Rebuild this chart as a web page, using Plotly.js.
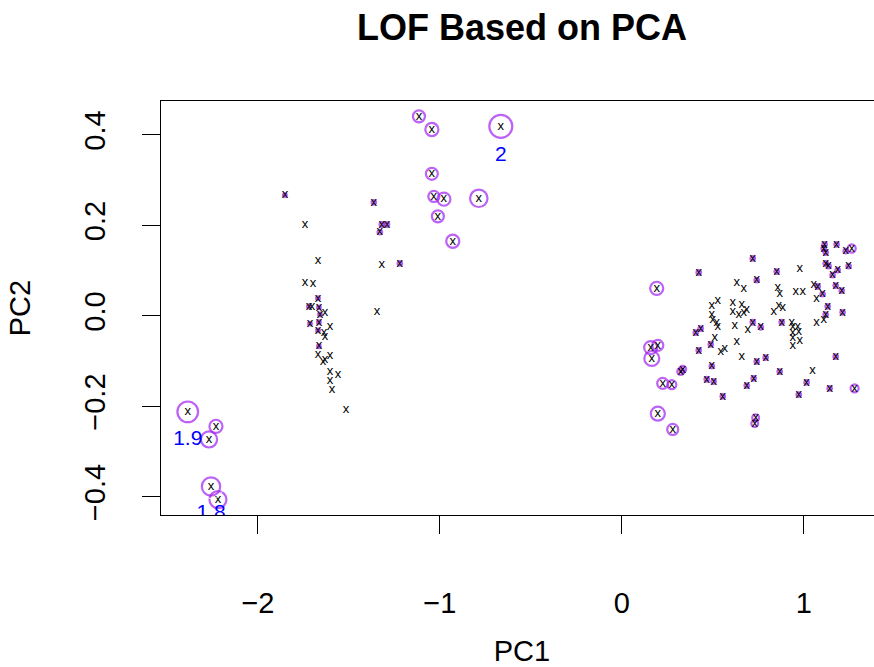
<!DOCTYPE html>
<html>
<head>
<meta charset="utf-8">
<script src="https://cdn.plot.ly/plotly-3.0.1.min.js"></script>
<style>
html, body { margin: 0; padding: 0; overflow: hidden; background: #fff; }
#chart { width: 905px; height: 667px; }
</style>
</head>
<body>
<div id="chart"></div>
<script>
// PCA scores (PC1, PC2) and LOF score per observation
const pc1 = [
  -1.115,-1.044,-0.665,-1.044,-1.033,-0.978,-0.786,-1.011,-0.929,-1.363,-1.319,-1.291,-1.330,-1.220,-1.319,-1.346,
  -1.852,-1.742,-1.670,-1.742,-1.698,-1.670,-1.720,-1.703,-1.665,-1.632,-1.659,-1.714,-1.665,-1.604,-1.670,-1.637,-1.632,-1.665,-1.670,-1.632,-1.604,-1.643,-1.604,-1.560,-1.604,-1.593,-1.516,
  -2.386,-2.231,-2.269,-2.258,-2.220,
  0.192,0.159,0.198,0.165,0.225,0.275,0.198,0.280,0.324,0.335,1.264,1.280,0.736,0.731,
  0.423,0.407,0.434,0.489,0.423,0.495,0.467,0.505,0.555,0.687,0.725,0.742,0.791,0.868,0.973,1.016,1.143,1.176,0.720,0.764,
  0.879,0.720,0.852,0.742,1.077,1.104,1.115,1.110,1.121,1.181,1.231,1.121,1.137,1.187,1.159,1.247,1.176,1.209,1.132,1.121,1.214,
  0.495,0.527,0.610,0.659,0.687,0.610,0.643,0.670,0.495,0.500,0.527,0.522,0.621,0.692,0.511,0.632,0.544,0.566,0.659,0.632,
  0.670,0.978,0.857,0.868,0.956,0.995,1.055,1.071,0.835,0.863,0.885,0.934,0.940,0.967,0.940,0.973,0.940,0.978,0.940,1.049,1.071,1.110
];
const pc2 = [
  0.441,0.412,0.419,0.314,0.264,0.258,0.260,0.220,0.165,0.251,0.202,0.202,0.185,0.116,0.114,0.010,
  0.267,0.202,0.123,0.074,0.071,0.039,0.021,0.021,0.019,0.006,0.003,-0.017,-0.014,-0.023,-0.032,-0.037,-0.045,-0.067,-0.085,-0.096,-0.087,-0.101,-0.123,-0.129,-0.143,-0.163,-0.207,
  -0.212,-0.244,-0.273,-0.377,-0.406,
  0.061,-0.070,-0.065,-0.094,-0.149,-0.152,-0.216,-0.251,-0.123,-0.118,0.149,-0.160,-0.225,-0.238,
  0.096,-0.037,-0.028,-0.063,-0.076,-0.111,-0.140,-0.145,-0.178,-0.154,-0.138,-0.101,-0.092,-0.123,-0.174,-0.147,-0.160,-0.090,-0.014,-0.025,
  -0.014,0.127,0.098,0.079,0.065,0.048,0.158,0.149,0.140,0.158,0.143,0.116,0.110,0.101,0.090,0.110,0.067,0.056,0.021,0.003,0.008,
  0.023,0.034,0.030,0.025,0.014,0.010,0.003,0.006,0.003,-0.008,-0.023,-0.014,-0.021,-0.030,-0.048,-0.056,-0.079,-0.072,-0.090,0.074,
  0.061,0.105,0.063,0.050,0.054,0.054,0.070,0.039,0.010,0.023,0.019,-0.014,-0.023,-0.023,-0.037,-0.034,-0.048,-0.054,-0.067,-0.121,-0.014,-0.008
];
const lof = [
  1.52,1.57,2.00,1.52,1.48,1.57,1.76,1.52,1.57,1.20,1.20,1.20,1.20,1.20,1.00,1.00,
  1.16,1.00,1.00,1.00,1.00,1.16,1.16,1.00,1.16,1.00,1.16,1.16,1.16,1.00,1.16,1.00,1.00,1.16,1.00,1.00,1.00,1.00,1.00,1.00,1.00,1.00,1.00,
  1.90,1.57,1.70,1.80,1.74,
  1.57,1.57,1.48,1.65,1.48,1.39,1.61,1.48,1.30,1.30,1.35,1.35,1.30,1.30,
  1.20,1.20,1.20,1.20,1.20,1.20,1.20,1.20,1.20,1.20,1.20,1.20,1.20,1.20,1.20,1.20,1.20,1.20,1.20,1.20,
  1.20,1.20,1.20,1.20,1.20,1.20,1.20,1.20,1.20,1.20,1.20,1.20,1.20,1.20,1.20,1.20,1.20,1.20,1.20,1.20,1.20,
  1.00,1.00,1.00,1.00,1.00,1.00,1.00,1.00,1.00,1.00,1.00,1.00,1.00,1.00,1.00,1.00,1.00,1.00,1.00,1.00,
  1.00,1.00,1.00,1.00,1.00,1.00,1.00,1.00,1.00,1.00,1.00,1.00,1.00,1.00,1.00,1.00,1.00,1.00,1.00,1.00,1.00,1.00
];
const pointChar = 'x';
const xTickVals = [-2, -1, 0, 1];
const xTickText = ['\u22122', '\u22121', '0', '1'];
const yTickVals = [-0.4, -0.2, 0.0, 0.2, 0.4];
const yTickText = ['\u22120.4', '\u22120.2', '0.0', '0.2', '0.4'];
const nLabels = 3;

// circle size grows with LOF score above 1
const CIRCLE_SCALE = 23;
const cx = [], cy = [], cs = [];
for (let i = 0; i < pc1.length; i++) {
  if (lof[i] > 1) { cx.push(pc1[i]); cy.push(pc2[i]); cs.push(CIRCLE_SCALE * (lof[i] - 1)); }
}
const order = lof.map((v, i) => i).sort((a, b) => lof[b] - lof[a]).slice(0, nLabels);
const lx = order.map(i => pc1[i]);
const ly = order.map(i => pc2[i]);
const ls = order.map(i => CIRCLE_SCALE * (lof[i] - 1) + 6);
const lt = order.map(i => String(Math.round(lof[i] * 10) / 10));

const FONT = 'Liberation Sans, Arial, Helvetica, sans-serif';
const purple = '#A020F0';

const traces = [
  {
    x: cx, y: cy, type: 'scatter', mode: 'markers', hoverinfo: 'skip',
    marker: { symbol: 'circle-open', size: cs, color: purple, line: { width: 2.2, color: purple } },
    cliponaxis: true
  },
  {
    x: pc1, y: pc2, type: 'scatter', mode: 'text', text: pc1.map(() => pointChar),
    textposition: 'middle center', textfont: { family: FONT, size: 13, color: '#000' },
    hoverinfo: 'skip', cliponaxis: true
  },
  {
    x: lx, y: ly, type: 'scatter', mode: 'markers+text', text: lt,
    marker: { size: ls, color: 'rgba(0,0,0,0)' },
    textposition: 'bottom center', textfont: { family: FONT, size: 21, color: '#0000FF' },
    hoverinfo: 'skip', cliponaxis: true
  }
];

const layout = {
  width: 905, height: 667,
  margin: { l: 161, r: 22, t: 101, b: 152 },
  paper_bgcolor: '#fff', plot_bgcolor: '#fff',
  showlegend: false,
  font: { family: FONT, color: '#000', size: 29 },
  title: {
    text: '<b>LOF Based on PCA</b>',
    font: { family: FONT, size: 36, color: '#000' },
    x: 0.5, xref: 'paper', xanchor: 'center',
    y: 1 - 27 / 667, yref: 'container', yanchor: 'middle'
  },
  xaxis: {
    range: [-2.533, 1.436], autorange: false,
    tickvals: xTickVals, ticktext: xTickText,
    ticks: 'outside', ticklen: 18, tickwidth: 1, tickcolor: '#000',
    ticklabelstandoff: 44,
    showline: true, mirror: true, linecolor: '#000', linewidth: 1,
    showgrid: false, zeroline: false,
    tickfont: { family: FONT, size: 29, color: '#000' },
    title: { text: 'PC1', font: { family: FONT, size: 29, color: '#000' }, standoff: 34 }
  },
  yaxis: {
    range: [-0.440, 0.475], autorange: false,
    tickvals: yTickVals, ticktext: yTickText, tickangle: -90,
    ticks: 'outside', ticklen: 18, tickwidth: 1, tickcolor: '#000',
    ticklabelstandoff: 25,
    showline: true, mirror: true, linecolor: '#000', linewidth: 1,
    showgrid: false, zeroline: false,
    tickfont: { family: FONT, size: 29, color: '#000' },
    title: { text: 'PC2', font: { family: FONT, size: 29, color: '#000' }, standoff: 40 }
  }
};

Plotly.newPlot('chart', traces, layout, { staticPlot: true, displayModeBar: false });
</script>
</body>
</html>
